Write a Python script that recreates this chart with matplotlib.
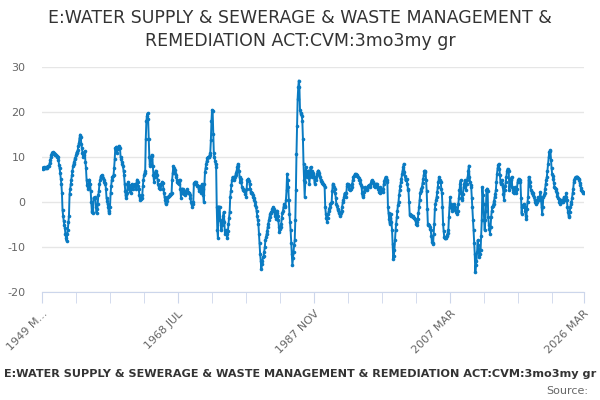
import matplotlib
matplotlib.use("Agg")
import matplotlib.pyplot as plt
import numpy as np

# ---------------------------------------------------------------------------
# Data: monthly values, 1949 MAR .. 2026 MAR
# ---------------------------------------------------------------------------
TITLE = "E:WATER SUPPLY & SEWERAGE & WASTE MANAGEMENT &\nREMEDIATION ACT:CVM:3mo3my gr"
CAPTION = "E:WATER SUPPLY & SEWERAGE & WASTE MANAGEMENT & REMEDIATION ACT:CVM:3mo3my gr"

start_year = 1949
start_month = 3

values_by_year = [
    [7.6, 7.4, 7.5, 7.8, 7.6, 7.5, 7.7, 7.5, 7.6, 7.8],  # 1949 from MAR
    [7.9, 8.0, 8.0, 8.6, 9.3, 9.9, 10.5, 11.0, 11.1, 10.9, 10.8, 10.6],
    [10.6, 10.5, 10.4, 10.2, 10.1, 10.0, 9.4, 8.3, 7.5, 6.5, 5.2, 4.0],
    [2.0, -1.8, -3.0, -4.2, -5.0, -5.8, -7.2, -8.0, -8.7, -7.0, -6.2, -4.5],
    [-3.0, 1.8, 2.8, 4.0, 5.0, 6.0, 7.0, 8.0, 8.5, 9.0, 9.5, 9.8],
    [10.5, 11.0, 11.2, 11.6, 12.5, 13.2, 14.2, 15.0, 14.5, 13.0, 12.0, 11.0],
    [10.0, 10.5, 11.0, 11.3, 9.0, 7.5, 5.0, 3.8, 3.4, 3.0, 4.0, 5.0],
    [4.0, 2.5, 0.0, -2.0, -2.3, -2.5, 1.0, 1.0, 1.1, 0.9, -1.0, -2.5],
    [-1.5, -0.5, 1.5, 2.5, 4.0, 4.8, 5.5, 5.8, 6.0, 5.8, 5.3, 5.0],
    [4.5, 4.2, 4.0, 3.0, 1.0, 0.2, -0.5, -1.2, -2.5, -2.0, -1.0, 2.0],
    [3.5, 5.0, 5.5, 5.8, 6.0, 7.5, 9.5, 12.0, 11.5, 12.3, 11.0, 11.8],
    [12.2, 12.5, 12.3, 12.0, 10.0, 9.5, 9.0, 8.5, 8.0, 7.0, 6.0, 4.0],
    [2.5, 1.0, 1.5, 2.0, 3.5, 4.5, 3.8, 3.0, 2.5, 2.0, 3.0, 4.0],
    [3.5, 3.0, 3.5, 3.8, 4.0, 3.5, 3.0, 4.0, 5.0, 4.5, 3.5, 3.0],
    [1.5, 0.5, 0.6, 0.8, 1.0, 1.5, 3.5, 5.0, 6.0, 6.5, 7.0, 14.0],
    [18.0, 19.2, 19.7, 18.5, 14.0, 10.0, 8.0, 8.5, 9.5, 10.5, 10.3, 8.0],
    [6.0, 4.5, 5.5, 6.5, 7.0, 6.5, 6.0, 5.0, 4.0, 3.5, 3.2, 3.0],
    [3.5, 4.0, 4.2, 4.5, 4.3, 3.0, 2.0, 1.2, 0.5, -0.5, -0.2, 0.3],
    [1.0, 1.2, 1.3, 1.4, 1.5, 1.7, 1.8, 2.0, 5.0, 6.5, 8.0, 7.5],
    [7.2, 6.5, 6.0, 5.5, 5.0, 4.5, 4.2, 4.0, 4.5, 5.0, 3.0, 1.0],
    [2.0, 3.0, 2.8, 2.5, 2.0, 1.8, 1.5, 2.0, 2.5, 2.8, 2.5, 2.2],
    [2.0, 2.0, 1.5, 0.8, 0.0, -0.5, -1.0, -0.5, 0.0, 4.0, 4.3, 4.5],
    [4.5, 4.0, 3.8, 3.5, 3.5, 3.0, 2.5, 3.5, 3.0, 2.0, 2.5, 4.0],
    [3.0, 1.5, 0.0, 4.0, 6.7, 7.5, 8.5, 9.2, 9.8, 10.0, 10.0, 10.1],
    [10.5, 11.0, 13.7, 18.0, 20.5, 20.3, 15.2, 11.0, 10.0, 9.2, 8.5, 7.8],
    [-1.1, -6.3, -7.9, -1.0, -1.0, -1.2, -4.0, -5.0, -6.3, -5.0, -4.0, -3.0],
    [-2.2, -4.5, -7.0, -6.5, -6.3, -7.0, -8.1, -6.5, -4.8, -3.5, -2.2, 1.1],
    [2.5, 3.7, 4.8, 5.6, 5.2, 4.8, 5.2, 5.6, 6.0, 6.5, 7.0, 7.8],
    [8.5, 8.0, 7.0, 5.5, 4.4, 5.2, 4.5, 3.3, 3.0, 2.6, 2.7, 2.5],
    [2.6, 1.8, 1.1, 3.0, 4.8, 5.0, 5.2, 4.6, 4.1, 3.0, 2.2, 2.0],
    [1.9, 1.5, 1.2, 0.8, 0.4, 0.0, -0.6, -1.1, -2.0, -3.0, -4.0, -4.8],
    [-7.0, -9.0, -11.5, -13.0, -14.8, -13.8, -13.0, -12.2, -12.0, -11.0, -10.0, -8.5],
    [-7.8, -7.0, -6.5, -5.5, -4.8, -4.0, -3.3, -2.6, -2.4, -2.2, -2.0, -1.5],
    [-1.1, -1.5, -2.0, -2.6, -3.2, -3.7, -2.5, -1.9, -3.0, -4.0, -5.5, -6.7],
    [-6.0, -5.5, -4.8, -3.5, -2.5, -1.9, -1.0, -0.4, -0.8, -1.1, 0.5, 2.6],
    [6.3, 5.0, 3.3, 0.5, -2.6, -4.5, -6.3, -9.0, -11.5, -14.1, -12.5, -11.0],
    [-9.5, -8.5, -4.0, 2.6, 10.7, 17.0, 23.0, 25.5, 27.0, 25.6, 20.4, 19.8],
    [19.6, 19.2, 18.0, 14.0, 8.5, 4.8, 1.1, 4.5, 7.8, 6.5, 5.6, 6.3],
    [7.0, 5.5, 4.1, 6.0, 7.8, 6.5, 5.6, 7.0, 6.5, 6.0, 5.6, 4.1],
    [4.8, 5.0, 5.6, 6.2, 6.8, 7.0, 6.5, 6.0, 5.6, 5.0, 4.6, 4.4],
    [4.2, 4.1, 4.0, 3.8, 3.3, -1.0, -2.6, -3.5, -4.4, -3.5, -2.6, -2.0],
    [-1.5, -1.1, -0.5, -0.2, 0.0, 2.5, 4.1, 3.8, 3.3, 2.8, 1.9, 1.0],
    [-0.4, -0.9, -1.5, -1.8, -2.2, -2.5, -2.8, -3.0, -2.5, -1.9, -1.0, 0.0],
    [0.4, 1.2, 1.9, 1.5, 1.1, 2.0, 3.5, 4.1, 3.9, 3.7, 3.0, 2.6],
    [2.8, 3.0, 3.3, 4.0, 4.8, 5.6, 5.8, 6.0, 6.3, 6.2, 6.0, 5.9],
    [5.8, 5.6, 5.4, 5.0, 4.8, 4.3, 3.8, 3.3, 2.0, 1.1, 1.6, 2.2],
    [2.8, 3.3, 3.0, 2.8, 2.6, 3.0, 3.5, 3.7, 3.5, 3.3, 3.8, 4.3],
    [4.8, 4.6, 4.5, 4.4, 4.0, 3.6, 3.3, 3.6, 4.0, 4.1, 3.5, 3.0],
    [2.6, 2.2, 1.9, 3.3, 3.0, 2.6, 2.4, 2.2, 3.0, 4.1, 4.6, 5.2],
    [5.6, 5.4, 5.0, 4.4, -1.1, -2.5, -3.8, -4.8, -3.5, -2.6, -4.5, -6.3],
    [-9.3, -12.6, -12.0, -10.7, -8.5, -6.3, -4.8, -3.3, -2.0, -0.7, 0.0, 1.5],
    [2.6, 3.5, 4.4, 5.2, 6.3, 7.0, 7.8, 8.5, 6.7, 5.8, 4.8, 5.0],
    [5.2, 4.0, 3.0, 2.6, 0.0, -2.6, -2.8, -2.9, -3.0, -3.1, -3.2, -3.3],
    [-3.5, -3.6, -3.7, -4.2, -4.8, -5.2, -4.5, -3.7, -2.5, -1.1, 0.5, 1.9],
    [2.5, 3.0, 3.3, 4.2, 5.2, 6.0, 6.8, 7.0, 6.7, 5.0, 2.5, -1.5],
    [-4.8, -5.0, -5.1, -5.5, -6.0, -6.3, -7.5, -8.9, -9.0, -9.3, -7.0, -4.8],
    [-1.5, -0.4, 0.5, 1.1, 2.2, 3.3, 4.5, 5.6, 5.0, 4.6, 4.4, 3.0],
    [1.9, -1.0, -4.8, -6.5, -7.8, -8.0, -8.1, -8.0, -7.6, -7.4, -6.8, -6.3],
    [-3.3, -1.0, 1.1, -0.4, -1.2, -1.6, -1.9, -1.2, -0.4, -0.7, -1.1, -1.8],
    [-2.2, -2.6, -2.3, -1.9, -0.5, 1.0, 2.6, 4.0, 4.8, 1.9, 1.0, 0.4],
    [1.8, 3.3, 4.0, 4.8, 3.8, 2.6, 4.0, 5.0, 5.6, 7.0, 8.1, 5.6],
    [4.5, 3.8, 3.3, 1.0, -1.1, -4.0, -6.3, -9.0, -11.5, -15.6, -14.0, -13.0],
    [-11.0, -8.5, -9.5, -10.5, -12.2, -11.5, -10.7, -7.5, -4.0, 3.3, 1.5, -0.4],
    [-4.0, -6.3, -4.0, -1.9, 2.6, 3.0, 2.5, -3.3, -5.0, -6.0, -7.0, -5.5],
    [-3.3, -2.0, -1.1, -0.8, -0.4, 0.3, 1.1, 1.8, 2.6, 4.5, 6.3, 7.5],
    [8.2, 8.5, 7.4, 6.0, 4.1, 4.5, 4.8, 4.0, 3.3, 1.8, 0.4, 2.6],
    [3.5, 4.5, 5.6, 6.8, 7.4, 7.2, 7.0, 2.6, 3.8, 4.8, 5.2, 5.6],
    [3.3, 2.8, 2.3, 1.9, 2.5, 3.3, 2.6, 1.9, 3.0, 4.4, 4.8, 5.2],
    [5.0, 4.8, 4.4, 1.0, -2.6, -1.1, -0.8, -0.6, -0.4, -1.0, -1.9, -3.0],
    [-3.7, -1.5, 0.0, 1.1, 5.6, 5.0, 4.4, 3.5, 2.6, 2.3, 2.0, 1.9],
    [1.5, 1.1, 0.5, 0.0, -0.4, -0.2, 0.0, 0.5, 1.1, 0.8, 0.4, 1.2],
    [2.2, 0.5, -1.1, -2.6, -1.0, 1.1, 1.5, 1.9, 3.0, 4.1, 5.0, 5.6],
    [7.0, 8.5, 10.0, 11.1, 11.3, 11.5, 9.3, 7.5, 6.3, 5.8, 5.2, 4.3],
    [3.3, 3.2, 3.0, 2.5, 1.9, 1.3, 0.9, 0.7, 0.1, -0.4, 0.0, 0.4],
    [0.2, 0.1, 0.0, 0.5, 1.1, 0.8, 0.4, 1.2, 1.9, 0.5, -1.1, -2.2],
    [-3.0, -3.3, -2.2, -1.1, -0.5, 0.0, 1.0, 1.9, 3.0, 4.4, 5.0, 5.4],
    [5.6, 5.5, 5.6, 5.6, 5.4, 5.2, 4.8, 4.3, 3.7, 3.2, 2.6, 2.4],
    [2.2, 2.1, 2.0],  # 2026 to MAR
]

tick_labels = ["1949 M...", "1968 JUL", "1987 NOV", "2007 MAR", "2026 MAR"]
y_ticks = [-20, -10, 0, 10, 20, 30]

# ---------------------------------------------------------------------------
# Build series
# ---------------------------------------------------------------------------
values = [v for row in values_by_year for v in row]
n = len(values)
idx = np.arange(n)

LINE_COLOR = "#0a7bc2"
GRID_COLOR = "#e6e6e6"
AXIS_COLOR = "#ccd6eb"
TEXT_COLOR = "#666666"

fig = plt.figure(figsize=(6, 4), dpi=100)
ax = fig.add_axes([0.07, 0.27, 0.903, 0.5625])

ax.plot(idx, values, color=LINE_COLOR, linewidth=1.4, marker="o",
        markersize=2.6, markeredgewidth=0, zorder=3)

ax.set_xlim(0, n - 1)
ax.set_ylim(-20, 30)

# y axis
ax.set_yticks(y_ticks)
ax.set_yticklabels([str(t) for t in y_ticks], color=TEXT_COLOR, fontsize=8)
ax.tick_params(axis="y", length=0, pad=12)
ax.grid(axis="y", color=GRID_COLOR, linewidth=1, zorder=0)

# x axis: minor tick every 58 months, labels every 232 months + last point
step = 58
minor = list(range(0, n - 1, step)) + [n - 1]
major = [0, 232, 464, 696, n - 1]
ax.set_xticks(minor, minor=True)
ax.set_xticks(major)
ax.set_xticklabels(tick_labels, rotation=45, ha="right", rotation_mode="anchor",
                   color=TEXT_COLOR, fontsize=8)
ax.tick_params(axis="x", which="both", length=8, color=AXIS_COLOR, pad=4)

for side in ["top", "right", "left"]:
    ax.spines[side].set_visible(False)
ax.spines["bottom"].set_color(AXIS_COLOR)

fig.text(0.5, 0.927, TITLE, ha="center", va="center", fontsize=12.5,
         color="#333333", linespacing=1.35)
fig.text(0.5, 0.065, CAPTION, ha="center", va="center", fontsize=8.1,
         fontweight="bold", color="#333333")
fig.text(0.98, 0.022, "Source:", ha="right", va="center", fontsize=8,
         color=TEXT_COLOR)

fig.savefig("out.png", dpi=100)
